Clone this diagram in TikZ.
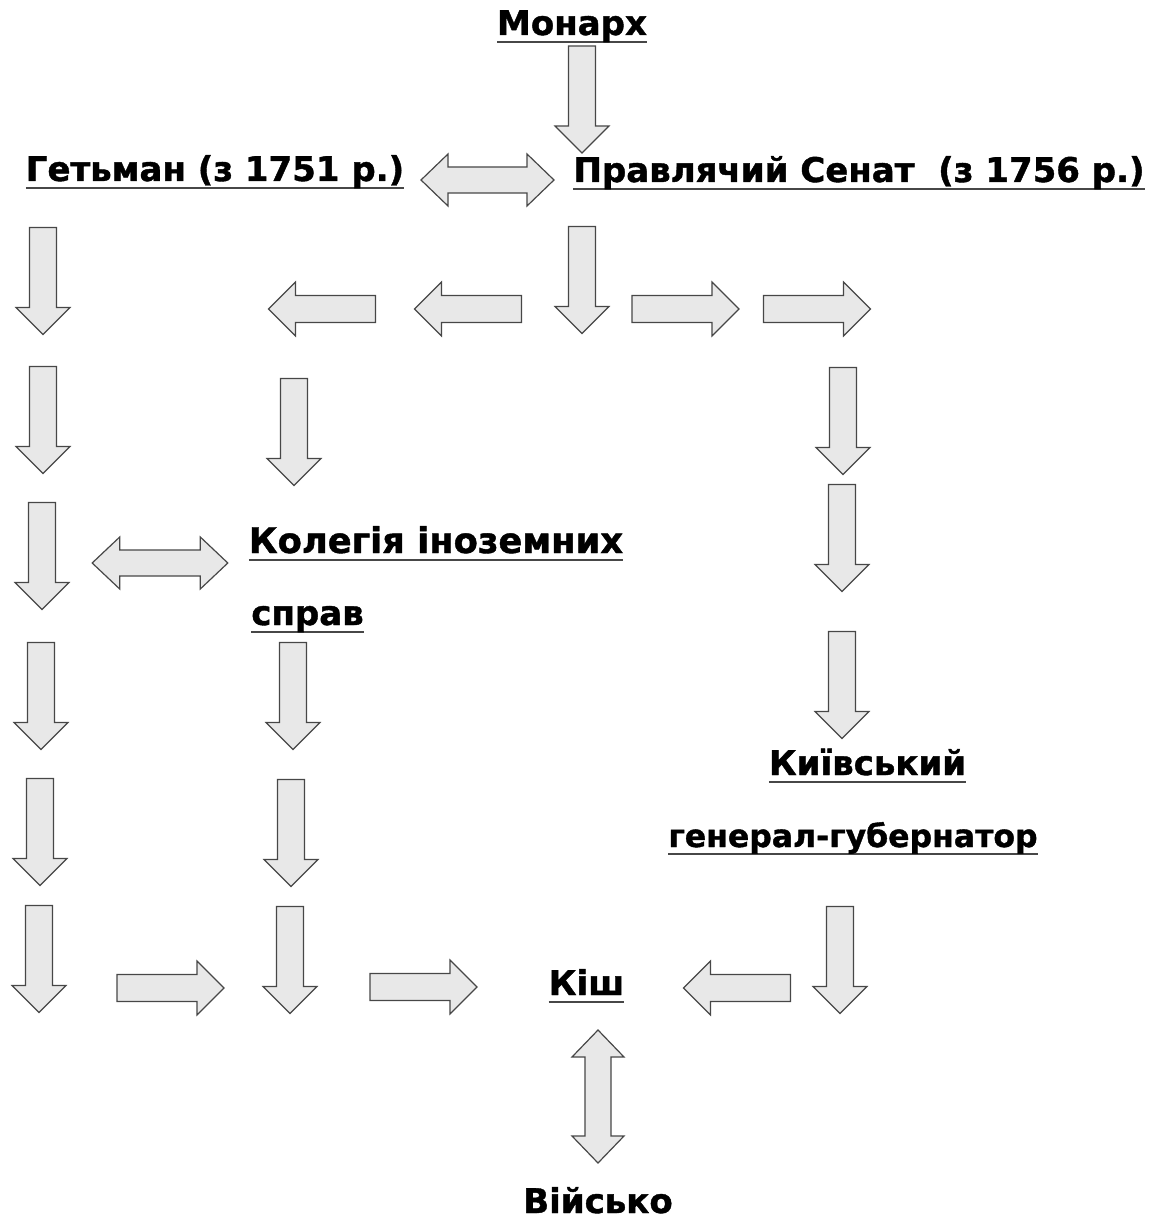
\documentclass[tikz,border=0pt]{standalone}
\usepackage{fontspec}
\setmainfont{DejaVu Sans}[BoldFeatures={FakeBold=1.2}]
\definecolor{arrowfill}{gray}{0.91}
\definecolor{arrowline}{gray}{0.28}
% underline a little below the baseline, same for every label
\newcommand{\ul}[1]{\setbox0\hbox{#1}\rlap{\color{arrowline}\rule[-8pt]{\wd0}{1.6pt}}\box0}
\tikzset{
  lbl/.style={inner sep=0pt, anchor=base, font=\bfseries\fontsize{34}{40}\selectfont},
  arrowbox/.style={draw=arrowline, fill=arrowfill, line width=1.2pt, line join=miter},
  barrow/.pic={\draw[arrowbox] (-53.5,-13.5) -- (26.5,-13.5) -- (26.5,-27) -- (53.5,0) -- (26.5,27) -- (26.5,13.5) -- (-53.5,13.5) -- cycle;},
  dbarrow/.pic={\draw[arrowbox] (-66.5,0) -- (-39.5,-26) -- (-39.5,-13) -- (39.5,-13) -- (39.5,-26) -- (66.5,0) -- (39.5,26) -- (39.5,13) -- (-39.5,13) -- (-39.5,26) -- cycle;}
}
\begin{document}
\begin{tikzpicture}[x=1pt,y=-1pt]
\useasboundingbox (0,0) rectangle (1160,1222);
% labels
\node[lbl] (monarch) at (572,35) {\ul{Монарх}};
\node[lbl] (hetman) at (215,181) {\ul{Гетьман (з 1751 р.)}};
\node[lbl] (senate) at (859,182) {\ul{Правлячий Сенат\ \ (з 1756 р.)}};
\node[lbl, font=\bfseries\fontsize{35.3}{40}\selectfont] (college) at (436,553) {\ul{Колегія іноземних}};
\node[lbl] (college2) at (307.5,625) {\ul{справ}};
\node[lbl] (kyiv) at (867.5,775) {\ul{Київський}};
\node[lbl, font=\bfseries\fontsize{31.5}{40}\selectfont] (kyiv2) at (853,847) {\ul{генерал-губернатор}};
\node[lbl] (kish) at (586.5,995) {\ul{Кіш}};
\node[lbl] (army) at (598,1213) {Військо};
% down arrows
\foreach \x/\y in {582/99.5, 582/280,
  43/281, 43/420, 42/556, 41/696, 40/832, 39/959,
  294/432, 293/696, 291/833, 290/960,
  843/421, 842/538, 842/685, 840/960}
  \pic[rotate=-90] at (\x,\y) {barrow};
% left arrows
\foreach \x/\y in {468/309, 322/309, 737/988}
  \pic[rotate=180] at (\x,\y) {barrow};
% right arrows
\foreach \x/\y in {685.5/309, 817/309, 170.5/988, 423.5/987}
  \pic at (\x,\y) {barrow};
% two-way arrows
\pic at (487.5,180) {dbarrow};
\pic[xscale=1.02] at (160,563) {dbarrow};
\pic[rotate=90] at (598,1096.5) {dbarrow};
\end{tikzpicture}
\end{document}
